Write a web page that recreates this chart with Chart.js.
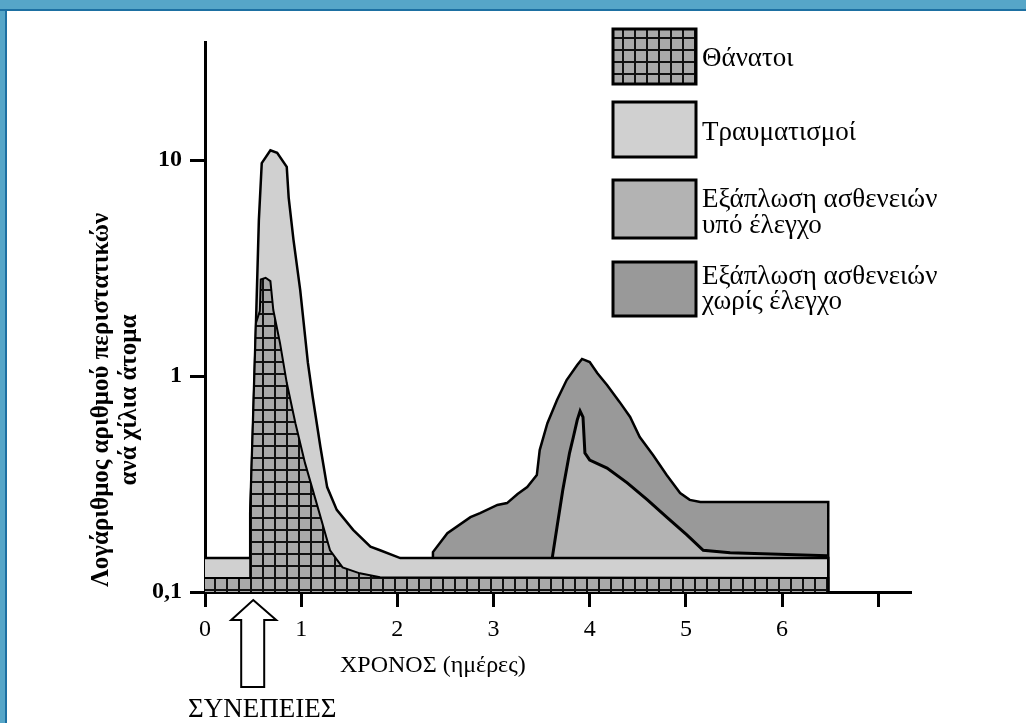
<!DOCTYPE html>
<html>
<head>
<meta charset="utf-8">
<script src="https://cdn.jsdelivr.net/npm/chart.js@4/dist/chart.umd.min.js"></script>
<style>
    body { margin: 0; background: #fff; }
    #top-band { position: absolute; left: 0; top: 0; width: 1026px; height: 9px; background: #56a6c8; border-bottom: 2px solid #1d70a2; z-index: 2; }
    #left-band { position: absolute; left: 0; top: 0; width: 5px; height: 723px; background: #56a6c8; border-right: 2px solid #1d70a2; z-index: 1; }
    #chart { position: absolute; left: 0; top: 0; z-index: 3; }
</style>
</head>
<body>
<div id="top-band"></div>
<div id="left-band"></div>
<canvas id="chart" width="1026" height="723"></canvas>
<script>
// cases per thousand people, by day after the event (log scale)
const deathsDays = [0, 0.47, 0.47, 0.50, 0.53, 0.57, 0.58, 0.63, 0.68, 0.71, 0.78, 0.85, 0.94, 1.04, 1.16, 1.30, 1.43, 1.61, 1.82, 6.48, 6.48];
const deathsRate = [0.116, 0.116, 0.232, 0.625, 1.76, 2.0, 2.8, 2.85, 2.75, 2.02, 1.42, 0.93, 0.605, 0.395, 0.258, 0.156, 0.13, 0.122, 0.117, 0.116, 0.1];

const injuryDays = [0, 0.47, 0.47, 0.50, 0.53, 0.56, 0.59, 0.68, 0.75, 0.85, 0.87, 0.92, 0.99, 1.07, 1.12, 1.20, 1.27, 1.37, 1.54, 1.72, 1.82, 2.03, 6.48, 6.48];
const injuryRate = [0.1435, 0.1435, 0.232, 0.625, 1.76, 5.27, 9.68, 11.1, 10.8, 9.3, 6.7, 4.27, 2.5, 1.15, 0.80, 0.469, 0.306, 0.24, 0.194, 0.162, 0.156, 0.1435, 0.1435, 0.1];

const controlledDays = [3.61, 3.66, 3.72, 3.79, 3.83, 3.87, 3.90, 3.93, 3.95, 4.00, 4.18, 4.39, 4.60, 4.80, 5.01, 5.18, 5.46, 6.47];
const controlledRate = [0.1435, 0.2, 0.297, 0.44, 0.522, 0.625, 0.689, 0.646, 0.44, 0.408, 0.375, 0.32, 0.267, 0.222, 0.184, 0.156, 0.152, 0.147];

const uncontrolledDays = [2.37, 2.37, 2.52, 2.76, 2.86, 3.04, 3.14, 3.25, 3.35, 3.45, 3.48, 3.56, 3.66, 3.76, 3.87, 3.92, 4.00, 4.08, 4.18, 4.31, 4.42, 4.52, 4.66, 4.80, 4.94, 5.04, 5.15, 6.48, 6.48];
const uncontrolledRate = [0.1435, 0.153, 0.187, 0.222, 0.232, 0.253, 0.258, 0.284, 0.306, 0.348, 0.454, 0.605, 0.774, 0.958, 1.124, 1.2, 1.16, 1.03, 0.909, 0.759, 0.646, 0.522, 0.43, 0.348, 0.287, 0.267, 0.261, 0.261, 0.1];

const seriesNames = [
    ["Θάνατοι"],
    ["Τραυματισμοί"],
    ["Εξάπλωση ασθενειών", "υπό έλεγχο"],
    ["Εξάπλωση ασθενειών", "χωρίς έλεγχο"]
];
const yTickValues = [0.1, 1, 10];
const yTickLabels = ["0,1", "1", "10"];
const xTickValues = [0, 1, 2, 3, 4, 5, 6, 7];
const xTickLabels = ["0", "1", "2", "3", "4", "5", "6", ""];
const eventDay = 0.47;

const SERIF = '"Liberation Serif", "DejaVu Serif", serif';

function toPoints(days, rates) {
    return days.map((d, i) => ({ x: d, y: rates[i] }));
}

// grey cells with black lines, used for the deaths area
function gridPattern() {
    const tile = document.createElement("canvas");
    tile.width = 12;
    tile.height = 12;
    const g = tile.getContext("2d");
    g.fillStyle = "#a9a9a9";
    g.fillRect(0, 0, 12, 12);
    g.fillStyle = "#111";
    g.fillRect(0, 0, 12, 2);
    g.fillRect(0, 0, 2, 12);
    const p = g.createPattern(tile, "repeat");
    p.setTransform(new DOMMatrix().translate(10, 1));
    return p;
}

const checkered = gridPattern();

function areaSet(label, days, rates, fillColor, lineWidth) {
    return {
        label: label,
        data: toPoints(days, rates),
        backgroundColor: fillColor,
        borderColor: "#000",
        borderWidth: lineWidth,
        fill: "start",
        pointRadius: 0,
        tension: 0
    };
}

const extras = {
    id: "extras",
    afterDraw(chart) {
        const ctx = chart.ctx;
        const xs = chart.scales.x;
        ctx.save();
        ctx.fillStyle = "#000";

        // legend
        const boxTops = [29, 102, 180, 262];
        const boxHeights = [55, 55, 58, 54];
        const baselines = [[66], [140], [207, 233], [284, 309]];
        chart.data.datasets.forEach((ds, i) => {
            ctx.fillStyle = ds.backgroundColor;
            ctx.fillRect(613, boxTops[i], 83, boxHeights[i]);
            ctx.lineWidth = 3;
            ctx.strokeStyle = "#000";
            ctx.strokeRect(613, boxTops[i], 83, boxHeights[i]);
            ctx.fillStyle = "#000";
            ctx.font = "27px " + SERIF;
            ctx.textAlign = "left";
            ctx.textBaseline = "alphabetic";
            seriesNames[i].forEach((line, j) => ctx.fillText(line, 702, baselines[i][j]));
        });

        // y axis title
        ctx.save();
        ctx.translate(117, 400);
        ctx.rotate(-Math.PI / 2);
        ctx.font = "bold 25px " + SERIF;
        ctx.textAlign = "center";
        ctx.textBaseline = "middle";
        ctx.fillText("Λογάριθμος αριθμού περιστατικών", 0, -15);
        ctx.fillText("ανά χίλια άτομα", 0, 13);
        ctx.restore();

        // x axis title
        ctx.font = "24px " + SERIF;
        ctx.textAlign = "left";
        ctx.textBaseline = "alphabetic";
        ctx.fillText("ΧΡΟΝΟΣ (ημέρες)", 340, 672);

        // arrow marking the event
        const ax = xs.getPixelForValue(eventDay) + 3;
        ctx.beginPath();
        ctx.moveTo(ax, 600);
        ctx.lineTo(ax + 23, 620);
        ctx.lineTo(ax + 11, 620);
        ctx.lineTo(ax + 11, 687);
        ctx.lineTo(ax - 12, 687);
        ctx.lineTo(ax - 12, 620);
        ctx.lineTo(ax - 22, 620);
        ctx.closePath();
        ctx.fillStyle = "#fff";
        ctx.fill();
        ctx.lineWidth = 2;
        ctx.strokeStyle = "#000";
        ctx.stroke();

        ctx.fillStyle = "#000";
        ctx.font = "27px " + SERIF;
        ctx.textAlign = "center";
        ctx.fillText("ΣΥΝΕΠΕΙΕΣ", ax + 9, 717);
        ctx.restore();
    }
};

new Chart(document.getElementById("chart"), {
    type: "line",
    data: {
        datasets: [
            areaSet(seriesNames[0].join(" "), deathsDays, deathsRate, checkered, 2),
            areaSet(seriesNames[1].join(" "), injuryDays, injuryRate, "#d0d0d0", 2.5),
            areaSet(seriesNames[2].join(" "), controlledDays, controlledRate, "#b3b3b3", 3),
            areaSet(seriesNames[3].join(" "), uncontrolledDays, uncontrolledRate, "#999999", 2.5)
        ]
    },
    options: {
        responsive: false,
        animation: false,
        layout: { padding: { left: 125, top: 42, right: 116, bottom: 71 } },
        plugins: {
            legend: { display: false },
            tooltip: { enabled: false }
        },
        scales: {
            x: {
                type: "linear",
                min: 0,
                max: 7.33,
                z: 1,
                afterFit: s => { s.height = 60; },
                afterBuildTicks: s => { s.ticks = xTickValues.map(v => ({ value: v })); },
                ticks: {
                    autoSkip: false,
                    maxRotation: 0,
                    padding: 8,
                    color: "#000",
                    font: { family: SERIF, size: 24 },
                    callback: (v, i) => xTickLabels[i]
                },
                grid: { drawOnChartArea: false, tickLength: 15, color: "#000", lineWidth: 3 },
                border: { color: "#000", width: 3 }
            },
            y: {
                type: "logarithmic",
                min: 0.1,
                max: 35.2,
                z: 1,
                afterFit: s => { s.width = 80; },
                afterBuildTicks: s => { s.ticks = yTickValues.map(v => ({ value: v })); },
                ticks: {
                    autoSkip: false,
                    padding: 8,
                    color: "#000",
                    font: { family: SERIF, size: 24, weight: "bold" },
                    callback: (v, i) => yTickLabels[i]
                },
                grid: { drawOnChartArea: false, tickLength: 15, color: "#000", lineWidth: 3 },
                border: { color: "#000", width: 3 }
            }
        }
    },
    plugins: [extras]
});
</script>
</body>
</html>
